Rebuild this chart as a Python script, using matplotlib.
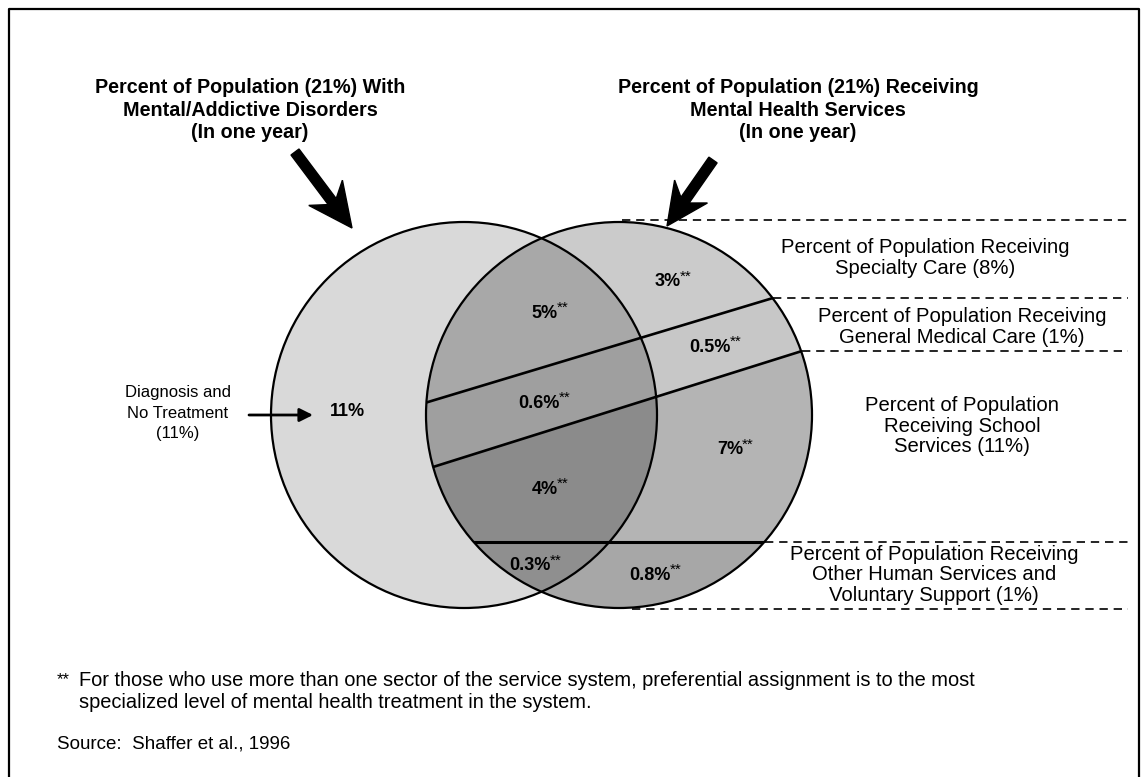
import numpy as np
import matplotlib
matplotlib.use('Agg')
import matplotlib.pyplot as plt
from matplotlib.patches import Circle, Polygon

plt.rcParams['font.family'] = ['Liberation Sans', 'DejaVu Sans']

# values
no_treatment_pct = '11%'
overlap_pct = ['5%', '0.6%', '4%', '0.3%']          # disorder + services, by sector
services_only_pct = ['3%', '0.5%', '7%', '0.8%']    # services, no disorder, by sector
sector_labels = [
    'Percent of Population Receiving\nSpecialty Care (8%)',
    'Percent of Population Receiving\nGeneral Medical Care (1%)',
    'Percent of Population\nReceiving School\nServices (11%)',
    'Percent of Population Receiving\nOther Human Services and\nVoluntary Support (1%)',
]
left_title = 'Percent of Population (21%) With\nMental/Addictive Disorders\n(In one year)'
right_title = 'Percent of Population (21%) Receiving\nMental Health Services\n(In one year)'
no_treatment_label = 'Diagnosis and\nNo Treatment\n(11%)'
footnote = ('For those who use more than one sector of the service system, preferential assignment is to the most\n'
            'specialized level of mental health treatment in the system.')
source = 'Source:  Shaffer et al., 1996'

# layout (pixels)
r = 193
c_left = (464, 415)
c_right = (619, 415)
line1 = ((428, 402), (773, 298))
line2 = ((433, 467), (802, 351))
y_hline = 542
overlap_xy = [(558, 313), (560, 403), (558, 489), (551, 566)]
only_xy = [(681, 282), (731, 347), (743, 450), (671, 575)]
sector_xy = [(925, 258), (962, 327), (962, 426), (934, 575)]
only_colors = ['#cbcbcb', '#c7c7c7', '#b4b4b4', '#a7a7a7']
overlap_colors = ['#a8a8a8', '#9f9f9f', '#8b8b8b', '#8f8f8f']

fig = plt.figure(figsize=(11.48, 7.77), dpi=100)
ax = fig.add_axes([0, 0, 1, 1])
ax.set_xlim(0, 1148)
ax.set_ylim(777, 0)
ax.axis('off')


def line_y(ln, x):
    (x0, y0), (x1, y1) = ln
    return y0 + (y1 - y0) * (x - x0) / (x1 - x0)


xa, xb = 200, 900
bands = [
    [(xa, line_y(line1, xa)), (xb, line_y(line1, xb)), (xb, 100), (xa, 100)],
    [(xa, line_y(line1, xa)), (xb, line_y(line1, xb)), (xb, line_y(line2, xb)), (xa, line_y(line2, xa))],
    [(xa, line_y(line2, xa)), (xb, line_y(line2, xb)), (xb, y_hline), (xa, y_hline)],
    [(xa, y_hline), (xb, y_hline), (xb, 700), (xa, 700)],
]

# left circle
ax.add_patch(Circle(c_left, r, facecolor='#d9d9d9', edgecolor='none', zorder=1))

# right circle clip and lens clip
right_clip = Circle(c_right, r, facecolor='none', edgecolor='none')
ax.add_patch(right_clip)
d = c_right[0] - c_left[0]
th = np.arccos(d / 2 / r)
t1 = np.linspace(-th, th, 200)
t2 = np.linspace(np.pi - th, np.pi + th, 200)
lens_pts = np.vstack([
    np.column_stack([c_left[0] + r * np.cos(t1), c_left[1] + r * np.sin(t1)]),
    np.column_stack([c_right[0] + r * np.cos(t2), c_right[1] + r * np.sin(t2)]),
])
lens_clip = Polygon(lens_pts, closed=True, facecolor='none', edgecolor='none')
ax.add_patch(lens_clip)

for pts, col in zip(bands, only_colors):
    p = Polygon(pts, closed=True, facecolor=col, edgecolor='none', zorder=2)
    ax.add_patch(p)
    p.set_clip_path(right_clip)
for pts, col in zip(bands, overlap_colors):
    p = Polygon(pts, closed=True, facecolor=col, edgecolor='none', zorder=3)
    ax.add_patch(p)
    p.set_clip_path(lens_clip)

# band boundaries
for ln in (line1, line2):
    l, = ax.plot([xa, xb], [line_y(ln, xa), line_y(ln, xb)], color='k', lw=1.9, zorder=4)
    l.set_clip_path(right_clip)
l, = ax.plot([xa, xb], [y_hline, y_hline], color='k', lw=2.2, zorder=4)
l.set_clip_path(right_clip)

# circle outlines
for c in (c_left, c_right):
    ax.add_patch(Circle(c, r, facecolor='none', edgecolor='k', lw=1.6, zorder=5))

# dashed guide lines to the right
dash_y = [220, line1[1][1], line2[1][1], y_hline, 609]
dash_x0 = [622, line1[1][0], line2[1][0], 765, 632]
for y, x0 in zip(dash_y, dash_x0):
    ax.plot([x0, 1128], [y, y], color='k', lw=1.2, ls=(0, (5, 3.5)), zorder=4)

# percent labels
for pct, (x, y) in zip(overlap_pct + services_only_pct, overlap_xy + only_xy):
    ax.text(x, y, pct, fontsize=13, fontweight='bold', ha='right', va='center', zorder=6)
    ax.text(x - 1, y - 5, '**', fontsize=11, ha='left', va='center', zorder=6)
ax.text(347, 411, no_treatment_pct, fontsize=13, fontweight='bold', ha='center', va='center', zorder=6)

for lab, (x, y) in zip(sector_labels, sector_xy):
    ax.text(x, y, lab, fontsize=14.6, ha='center', va='center', linespacing=1.07)

ax.text(178, 413, no_treatment_label, fontsize=12, ha='center', va='center', linespacing=1.45)
ax.annotate('', xy=(313, 415), xytext=(249, 415),
            arrowprops=dict(arrowstyle='-|>', lw=2, color='k', mutation_scale=20, shrinkA=0, shrinkB=0))

# titles and big arrows
ax.text(250, 110, left_title, fontsize=14.2, fontweight='bold', ha='center', va='center', linespacing=1.22)
ax.text(798, 110, right_title, fontsize=14.2, fontweight='bold', ha='center', va='center', linespacing=1.22)
ax.arrow(295, 152, 57, 76, width=10, head_width=42, head_length=44, overhang=0.25,
         length_includes_head=True, fc='k', ec='k', zorder=6)
ax.arrow(713, 160, -46, 66, width=10, head_width=40, head_length=42, overhang=0.25,
         length_includes_head=True, fc='k', ec='k', zorder=6)

# footnotes
ax.text(57, 680, '**', fontsize=12, ha='left', va='center')
ax.text(79, 691, footnote, fontsize=14.4, ha='left', va='center', linespacing=1.2)
ax.text(57, 744, source, fontsize=13.5, ha='left', va='center')

# frame
ax.plot([9, 9, 1139, 1139], [777, 9, 9, 777], color='k', lw=1.6)

fig.savefig('out.png', dpi=100)
